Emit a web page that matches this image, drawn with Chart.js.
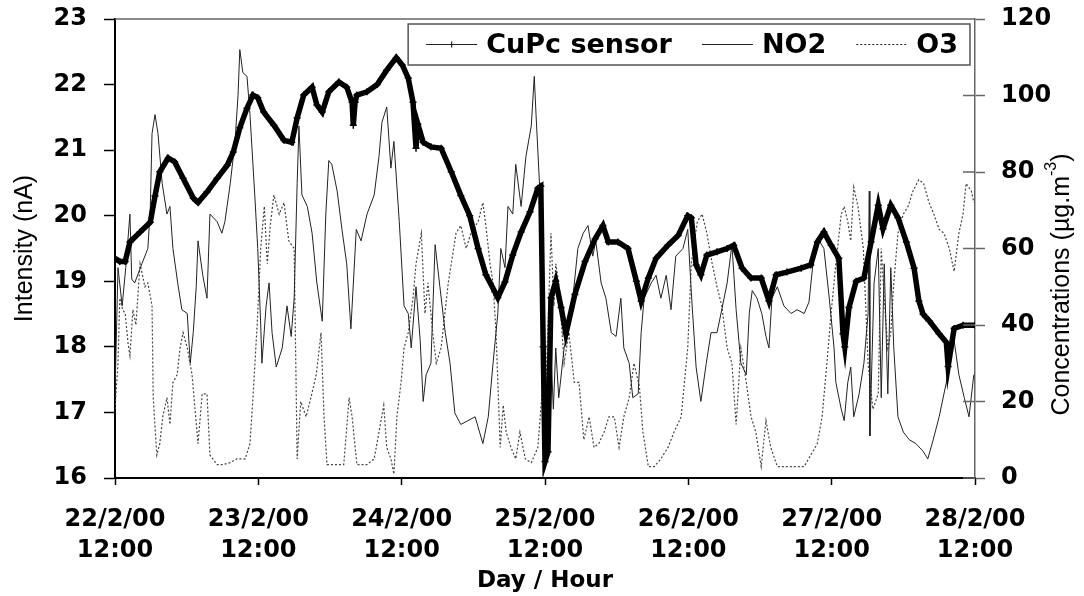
<!DOCTYPE html>
<html>
<head>
<meta charset="utf-8">
<script src="https://cdn.jsdelivr.net/npm/chart.js@4"></script>
<style>
  body { margin: 0; background: #fff; }
</style>
</head>
<body>
<canvas id="chart" width="1084" height="596"></canvas>
<script>
// hours since 22/2/00 12:00, value
const cupcSensor = [
  [0, 19.35], [0.8, 19.3], [1.7, 19.3], [2.5, 19.6], [4.2, 19.75], [5.9, 19.9], [6.7, 20.3], [7.5, 20.67], [8.9, 20.88], [10.0, 20.82],
  [11.4, 20.57], [13.1, 20.27], [13.9, 20.2], [15.4, 20.36], [17.1, 20.57], [18.8, 20.77], [19.8, 20.97], [20.9, 21.34], [22.1, 21.64], [23.1, 21.84],
  [23.9, 21.8], [24.9, 21.58], [26.6, 21.38], [28.3, 21.15], [29.6, 21.12], [30.5, 21.49], [31.6, 21.84], [33.0, 21.96], [33.8, 21.69], [34.7, 21.58],
  [35.8, 21.89], [37.5, 22.04], [38.8, 21.96], [39.7, 21.73], [39.9, 21.38], [40.2, 21.73], [40.5, 21.84], [42.2, 21.89], [43.9, 22.0], [45.5, 22.22],
  [47.1, 22.41], [48.1, 22.3], [49.1, 22.1], [49.9, 21.73], [50.4, 21.03], [50.7, 21.4], [51.6, 21.12], [52.9, 21.05], [54.6, 21.03], [56.3, 20.67],
  [57.9, 20.31], [59.4, 20.0], [60.8, 19.5], [62.1, 19.1], [63.6, 18.84], [64.1, 18.75], [65.3, 18.99], [66.6, 19.4], [68.0, 19.75], [69.5, 20.06],
  [70.8, 20.42], [71.3, 20.45], [71.7, 18.0], [72.0, 16.25], [72.5, 16.4], [73.0, 18.75], [73.8, 19.0], [74.7, 18.6], [75.5, 18.2], [77.0, 18.8],
  [78.7, 19.3], [80.4, 19.65], [81.7, 19.85], [82.6, 19.6], [84.2, 19.6], [85.9, 19.5], [87.3, 19.0], [88.1, 18.7], [89.3, 19.05], [90.6, 19.35],
  [92.6, 19.55], [94.3, 19.7], [95.9, 20.0], [96.5, 19.97], [97.3, 19.25], [98.1, 19.1], [99.1, 19.4], [100.8, 19.45], [102.5, 19.5], [103.6, 19.55],
  [105.0, 19.2], [106.5, 19.05], [108.2, 19.05], [109.5, 18.7], [110.7, 19.1], [112.5, 19.14], [114.9, 19.2], [116.5, 19.25], [117.6, 19.6], [118.7, 19.75],
  [119.9, 19.55], [121.2, 19.35], [121.9, 18.2], [122.2, 18.0], [122.9, 18.6], [124.1, 19.0], [125.4, 19.05], [126.6, 19.6], [127.8, 20.16], [128.6, 19.8],
  [129.9, 20.16], [131.1, 19.97], [132.5, 19.6], [133.8, 19.2], [134.6, 18.7], [135.3, 18.5], [136.3, 18.4], [138.0, 18.2], [139.2, 18.07], [139.5, 17.7],
  [140.5, 18.28], [142.0, 18.33], [144.0, 18.33]
];

const no2 = [
  [0, 22], [0.5, 55], [1.2, 45], [1.8, 55], [2.5, 69], [2.8, 52], [3.3, 51], [4.5, 56], [5.5, 60], [5.9, 70],
  [6.2, 90], [6.7, 95], [7.2, 90], [7.9, 77], [8.7, 69], [9.2, 71], [9.7, 60], [10.5, 51], [11.2, 44], [12.1, 43],
  [12.6, 30], [13.1, 38], [13.6, 50], [13.9, 62], [14.7, 53], [15.4, 47], [15.9, 69], [17.1, 67], [17.9, 64], [18.4, 67],
  [19.3, 77], [20.1, 88], [20.6, 100], [20.9, 112], [21.4, 106], [22.1, 105], [22.6, 95], [23.4, 74], [23.9, 60], [24.4, 40],
  [24.6, 30], [25.3, 45], [25.8, 51], [26.3, 38], [27.0, 29], [28.0, 34], [28.8, 45], [29.5, 37], [30.0, 47], [30.5, 77],
  [30.8, 92], [31.3, 74], [32.2, 71], [33.0, 64], [33.8, 51], [34.7, 41], [35.3, 69], [35.8, 83], [36.3, 82], [37.2, 75],
  [38.0, 65], [38.8, 56], [39.5, 39], [40.4, 65], [41.2, 62], [42.2, 69], [43.4, 74], [44.2, 84], [44.7, 93], [45.5, 97],
  [46.2, 81], [46.7, 88], [47.6, 67], [48.4, 45], [49.1, 43], [49.6, 34], [50.4, 50], [51.1, 36], [51.6, 20], [52.1, 27],
  [52.9, 30], [53.6, 61], [54.4, 50], [55.3, 38], [56.1, 30], [56.9, 17], [57.9, 14], [59.1, 15], [60.3, 16], [61.6, 9],
  [62.5, 16], [63.3, 30], [64.1, 43], [64.6, 60], [65.3, 55], [65.8, 71], [66.6, 69], [67.1, 82], [68.0, 71], [68.8, 84],
  [69.7, 92], [70.2, 105], [70.5, 95], [71.2, 73], [71.5, 43], [72.0, 5], [72.5, 6], [72.8, 40], [73.4, 18], [73.8, 34],
  [74.3, 21], [75.2, 34], [76.4, 43], [77.5, 60], [78.4, 64], [79.2, 66], [80.0, 58], [80.5, 62], [81.4, 51], [82.2, 47],
  [83.1, 38], [83.9, 37], [84.7, 47], [85.2, 34], [86.1, 30], [86.7, 21], [87.6, 22], [88.1, 38], [88.6, 47], [89.8, 51],
  [90.6, 53], [91.4, 47], [92.3, 53], [93.1, 44], [93.9, 58], [95.1, 60], [95.9, 65], [96.6, 46], [97.3, 29], [98.1, 20],
  [99.0, 30], [99.8, 38], [100.8, 38], [101.6, 44], [102.5, 51], [103.3, 61], [104.0, 44], [104.8, 30], [105.7, 27], [106.2, 43],
  [106.7, 49], [107.5, 47], [108.3, 43], [109.0, 37], [109.5, 34], [110.0, 47], [110.9, 50], [112.0, 45], [113.2, 43], [114.2, 44],
  [115.4, 43], [116.2, 46], [117.0, 58], [117.9, 62], [118.7, 60], [119.6, 47], [120.4, 34], [120.7, 25], [121.6, 18], [122.1, 15],
  [122.7, 25], [123.2, 29], [123.7, 16], [124.6, 22], [125.4, 30], [126.1, 43], [126.3, 75], [126.4, 11], [127.1, 51], [127.8, 60],
  [128.3, 21], [128.8, 56], [129.4, 22], [129.9, 55], [130.4, 34], [131.1, 16], [132.0, 12], [133.0, 10], [134.1, 9], [135.3, 7],
  [136.1, 5], [137.0, 10], [138.0, 16], [139.2, 25], [140.5, 36], [141.3, 27], [142.2, 21], [143.0, 16], [143.8, 27]
];

const o3 = [
  [0, 18], [0.5, 30], [0.8, 47], [1.3, 44], [1.7, 43], [2.2, 35], [2.5, 32], [3.0, 44], [3.5, 40], [4.2, 56],
  [5.0, 50], [5.5, 51], [6.2, 45], [6.4, 21], [7.0, 6], [7.5, 9], [8.0, 16], [8.7, 21], [9.2, 14], [9.7, 25],
  [10.4, 27], [10.9, 34], [11.4, 38], [12.1, 34], [12.9, 27], [13.4, 18], [13.9, 9], [14.6, 22], [15.4, 22], [15.9, 6],
  [17.1, 3.5], [18.1, 3.5], [19.3, 4], [20.4, 5], [21.8, 5], [22.6, 9], [23.1, 21], [23.8, 40], [24.4, 60], [25.0, 71],
  [25.5, 56], [26.0, 66], [26.6, 74], [27.5, 69], [28.3, 72], [29.1, 62], [30.0, 60], [30.5, 5], [31.1, 20], [32.0, 16],
  [32.8, 21], [33.7, 27], [34.5, 38], [35.0, 16], [35.5, 3.5], [36.7, 3.5], [38.3, 3.5], [39.2, 21], [39.7, 16], [40.5, 3.5],
  [42.2, 3.5], [43.4, 5], [44.2, 12], [45.0, 19], [45.5, 8], [46.2, 5], [46.7, 1], [47.2, 16], [47.9, 25], [48.4, 34],
  [49.1, 38], [49.9, 47], [50.4, 56], [51.3, 64], [51.9, 43], [52.4, 51], [53.2, 38], [53.8, 30], [54.6, 34], [55.8, 51],
  [56.3, 56], [57.1, 64], [57.9, 66], [58.8, 60], [59.6, 64], [60.8, 67], [61.6, 72], [62.1, 66], [62.8, 56], [63.3, 51],
  [63.8, 38], [64.5, 8], [65.0, 19], [65.5, 12], [66.3, 8], [67.1, 5], [67.8, 12], [68.7, 5], [69.7, 4], [70.8, 8],
  [71.5, 22], [72.0, 16], [72.5, 40], [73.0, 64], [73.5, 45], [73.8, 56], [74.3, 51], [75.2, 30], [76.0, 38], [76.9, 25],
  [77.7, 25], [78.5, 10], [79.4, 16], [80.2, 8], [81.0, 9], [81.9, 12], [82.7, 16], [83.6, 16], [84.4, 8], [85.2, 16],
  [86.1, 21], [86.9, 30], [87.8, 24], [88.4, 12], [89.3, 3], [90.3, 3], [91.4, 5], [92.6, 8], [93.6, 12], [94.8, 16],
  [95.9, 34], [96.5, 56], [97.5, 67], [98.3, 69], [99.1, 64], [100.0, 56], [100.8, 50], [101.6, 45], [102.5, 34], [103.3, 30],
  [104.0, 14], [104.8, 34], [105.7, 25], [106.5, 16], [107.3, 12], [108.2, 3], [109.0, 15], [109.8, 8], [110.9, 3], [112.0, 3],
  [113.7, 3], [115.4, 3], [116.5, 6], [117.6, 9], [118.4, 16], [119.2, 30], [119.9, 43], [120.7, 56], [121.6, 69], [122.1, 71],
  [122.7, 67], [123.2, 62], [123.7, 76], [124.4, 71], [125.3, 60], [126.1, 30], [126.9, 18], [127.8, 22], [128.3, 60], [128.8, 47],
  [129.4, 34], [129.9, 38], [130.4, 51], [131.1, 64], [132.0, 69], [132.8, 71], [133.6, 75], [134.6, 78], [135.4, 77], [136.3, 72],
  [137.1, 69], [138.0, 65], [138.8, 64], [139.7, 60], [140.5, 54], [141.3, 64], [142.0, 69], [142.5, 77], [143.4, 75], [143.8, 72]
];

const dayLabels = ['22/2/00', '23/2/00', '24/2/00', '25/2/00', '26/2/00', '27/2/00', '28/2/00'];
const tickTime = '12:00';

const toPoints = (rows) => rows.map(([x, y]) => ({ x, y }));

const BOLD = '"DejaVu Sans", sans-serif';
const PLAIN = '"Liberation Sans", Arial, sans-serif';

// fixed axis sizes; tick labels may overhang the plot edges
const fixWidth = (w) => (scale) => {
  scale.width = w;
  scale.paddingTop = 0;
  scale.paddingBottom = 0;
};
const fixHeight = (h) => (scale) => {
  scale.height = h;
  scale.paddingLeft = 0;
  scale.paddingRight = 0;
};

// frame line on top, inner half of the right-hand ticks, right axis title
const frameExtras = {
  id: 'frameExtras',
  afterDatasetsDraw(chart) {
    const { ctx, chartArea } = chart;
    const y1 = chart.scales.y1;
    ctx.save();
    ctx.strokeStyle = '#666';
    ctx.lineWidth = 1.5;
    ctx.beginPath();
    ctx.moveTo(chartArea.left, chartArea.top);
    ctx.lineTo(chartArea.right, chartArea.top);
    y1.ticks.forEach((t) => {
      const py = y1.getPixelForValue(t.value);
      ctx.moveTo(chartArea.right - 12, py);
      ctx.lineTo(chartArea.right, py);
    });
    ctx.stroke();
    ctx.restore();
  },
  afterDraw(chart) {
    const { ctx, chartArea } = chart;
    ctx.save();
    ctx.translate(chart.width - 22, (chartArea.top + chartArea.bottom) / 2 + 36);
    ctx.rotate(-Math.PI / 2);
    ctx.fillStyle = '#000';
    ctx.textBaseline = 'middle';
    const main = 'Concentrations (\u00b5g.m';
    const sup = '-3';
    ctx.font = `25px ${PLAIN}`;
    const wMain = ctx.measureText(main).width;
    const wClose = ctx.measureText(')').width;
    ctx.font = `16px ${PLAIN}`;
    const wSup = ctx.measureText(sup).width;
    let x = -(wMain + wSup + wClose) / 2;
    ctx.font = `25px ${PLAIN}`;
    ctx.fillText(main, x, 0);
    x += wMain;
    ctx.font = `16px ${PLAIN}`;
    ctx.fillText(sup, x, -10);
    x += wSup;
    ctx.font = `25px ${PLAIN}`;
    ctx.fillText(')', x, 0);
    ctx.restore();
  }
};

// legend in a bordered box at the top right of the plot
const boxedLegend = {
  id: 'boxedLegend',
  afterDraw(chart) {
    const { ctx, chartArea } = chart;
    const sets = chart.data.datasets;
    const sample = 51, gap = 9, spacing = 30, padL = 18, padR = 12, height = 41;
    ctx.save();
    ctx.font = `bold 27px ${BOLD}`;
    let width = padL + padR;
    sets.forEach((ds, i) => {
      width += sample + gap + ctx.measureText(ds.label).width + (i ? spacing : 0);
    });
    const right = chartArea.right - 5;
    const top = chartArea.top + 5;
    const left = right - width;
    ctx.fillStyle = '#fff';
    ctx.fillRect(left, top, width, height);
    ctx.strokeStyle = '#555';
    ctx.lineWidth = 1.5;
    ctx.strokeRect(left, top, width, height);
    const cy = top + height / 2;
    let x = left + padL;
    sets.forEach((ds) => {
      ctx.strokeStyle = '#222';
      ctx.lineWidth = 1.2;
      ctx.setLineDash(ds.borderDash || []);
      ctx.beginPath();
      ctx.moveTo(x, cy);
      ctx.lineTo(x + sample, cy);
      ctx.stroke();
      ctx.setLineDash([]);
      if (ds.legendMarker) {
        ctx.beginPath();
        ctx.moveTo(x + sample / 2, cy - 3);
        ctx.lineTo(x + sample / 2, cy + 3);
        ctx.stroke();
      }
      x += sample + gap;
      ctx.fillStyle = '#000';
      ctx.textBaseline = 'middle';
      ctx.fillText(ds.label, x, cy + 1);
      x += ctx.measureText(ds.label).width + spacing;
    });
    ctx.restore();
  }
};

new Chart(document.getElementById('chart'), {
  type: 'line',
  data: {
    datasets: [
      {
        label: 'CuPc sensor',
        data: toPoints(cupcSensor),
        yAxisID: 'y',
        borderColor: '#000',
        borderWidth: 5.5,
        pointRadius: 3.5,
        pointStyle: 'cross',
        pointBorderColor: '#000',
        pointBorderWidth: 1.5,
        tension: 0,
        legendMarker: true
      },
      {
        label: 'NO2',
        data: toPoints(no2),
        yAxisID: 'y1',
        borderColor: '#222',
        borderWidth: 1,
        pointRadius: 0,
        tension: 0
      },
      {
        label: 'O3',
        data: toPoints(o3),
        yAxisID: 'y1',
        borderColor: '#444',
        borderWidth: 1.2,
        borderDash: [2, 2],
        pointRadius: 0,
        tension: 0
      }
    ]
  },
  options: {
    responsive: false,
    animation: false,
    layout: { padding: { top: 19, left: 0, right: 0, bottom: 0 } },
    plugins: {
      legend: { display: false },
      tooltip: { enabled: false }
    },
    scales: {
      x: {
        type: 'linear',
        min: 0,
        max: 144,
        afterFit: fixHeight(118),
        border: { color: '#000', width: 2 },
        grid: { drawOnChartArea: false, tickLength: 7, color: '#000', tickWidth: 1.5 },
        ticks: {
          stepSize: 24,
          autoSkip: false,
          maxRotation: 0,
          padding: 19,
          color: '#000',
          font: { family: BOLD, weight: 'bold', size: 24, lineHeight: 1.3 },
          callback: (value) => [dayLabels[value / 24], tickTime]
        },
        title: {
          display: true,
          text: 'Day / Hour',
          color: '#000',
          font: { family: BOLD, weight: 'bold', size: 23 },
          padding: { top: 0, bottom: 1 }
        }
      },
      y: {
        position: 'left',
        min: 16,
        max: 23,
        afterFit: fixWidth(115),
        border: { color: '#000', width: 2 },
        grid: { drawOnChartArea: false, tickLength: 11, color: '#000', tickWidth: 1.5 },
        ticks: {
          stepSize: 1,
          padding: 17,
          color: '#000',
          font: { family: BOLD, weight: 'bold', size: 24 }
        },
        title: {
          display: true,
          text: 'Intensity (nA)',
          color: '#000',
          font: { family: PLAIN, size: 25 },
          padding: { top: 10, bottom: 0 }
        }
      },
      y1: {
        position: 'right',
        min: 0,
        max: 120,
        afterFit: fixWidth(109),
        border: { color: '#666', width: 1.5 },
        grid: { drawOnChartArea: false, tickLength: 10, color: '#666', tickWidth: 1.5 },
        ticks: {
          stepSize: 20,
          padding: 16,
          color: '#000',
          font: { family: BOLD, weight: 'bold', size: 24 }
        }
      }
    }
  },
  plugins: [frameExtras, boxedLegend]
});
</script>
</body>
</html>
